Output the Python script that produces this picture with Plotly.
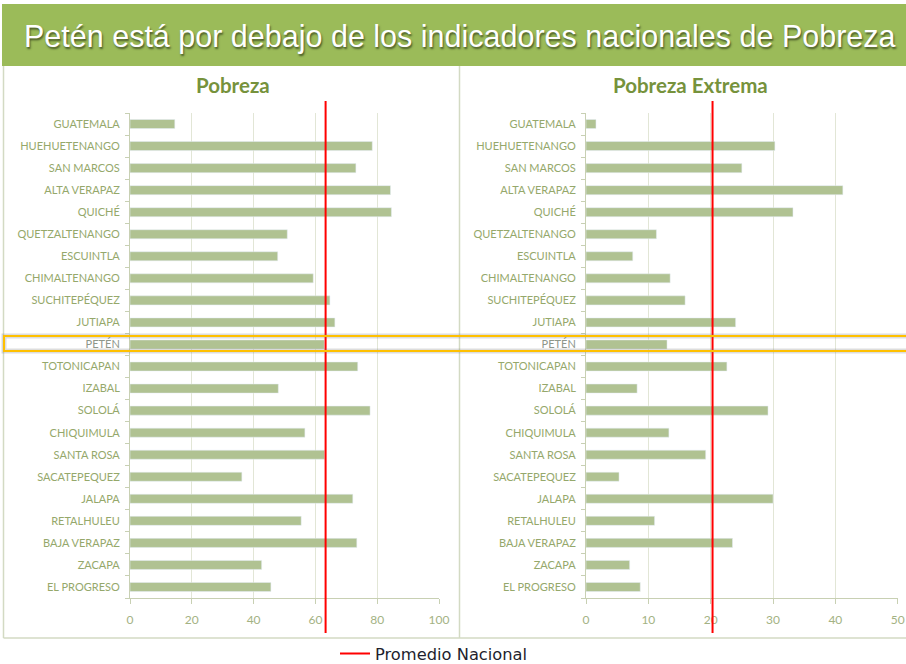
import plotly.graph_objects as go

# Data
departamentos = ["GUATEMALA", "HUEHUETENANGO", "SAN MARCOS", "ALTA VERAPAZ", "QUICHÉ",
                 "QUETZALTENANGO", "ESCUINTLA", "CHIMALTENANGO", "SUCHITEPÉQUEZ", "JUTIAPA",
                 "PETÉN", "TOTONICAPAN", "IZABAL", "SOLOLÁ", "CHIQUIMULA", "SANTA ROSA",
                 "SACATEPEQUEZ", "JALAPA", "RETALHULEU", "BAJA VERAPAZ", "ZACAPA", "EL PROGRESO"]
pobreza = [14.5, 78.4, 73.1, 84.3, 84.6, 50.9, 47.8, 59.3, 64.7, 66.3, 62.9,
           73.7, 48.0, 77.7, 56.6, 63.0, 36.2, 72.1, 55.4, 73.4, 42.6, 45.6]
pobreza_extrema = [1.6, 30.3, 25.0, 41.2, 33.2, 11.3, 7.5, 13.5, 15.9, 24.0, 13.0,
                   22.6, 8.2, 29.2, 13.3, 19.2, 5.3, 30.0, 11.0, 23.5, 7.0, 8.7]
promedio_pobreza = 63.3
promedio_extrema = 20.3
ticks_pobreza = [0, 20, 40, 60, 80, 100]
ticks_extrema = [0, 10, 20, 30, 40, 50]

W, H = 906, 664
BAR = "#B0C292"
LABEL = "#95A86B"
GRID = "#E2E6D6"
AXIS = "#C8D0B3"
FONT = "Lato"

def px(x):
    return x / W

def py(y):
    return 1 - y / H

tick_text = []
for d in departamentos:
    color = "#8E978A" if d == "PETÉN" else LABEL
    tick_text.append(f"<span style='color:{color}'>{d}</span>")

fig = go.Figure()
fig.add_trace(go.Bar(x=pobreza, y=departamentos, orientation="h", marker_color=BAR,
                     showlegend=False, xaxis="x", yaxis="y", hoverinfo="x+y"))
fig.add_trace(go.Bar(x=pobreza_extrema, y=departamentos, orientation="h", marker_color=BAR,
                     showlegend=False, xaxis="x2", yaxis="y2", hoverinfo="x+y"))
# legend entry for the national average lines
fig.add_trace(go.Scatter(x=[None], y=[None], mode="lines", name="Promedio Nacional",
                         line=dict(color="#FF0000", width=2)))

ydom = [py(598), py(113)]
xaxis_common = dict(showgrid=True, gridcolor=GRID, gridwidth=1, zeroline=False,
                    showline=True, linecolor=AXIS, ticks="outside", ticklen=5,
                    tickcolor=AXIS, tickfont=dict(family=FONT, size=12, color="#A3B283"),
                    ticklabelstandoff=6, fixedrange=True)
yaxis_common = dict(autorange="reversed", showline=True, linecolor=AXIS, ticks="outside",
                    tickson="boundaries", ticklen=4, tickcolor=AXIS, domain=ydom,
                    tickmode="array", tickvals=departamentos, ticktext=tick_text,
                    tickfont=dict(family=FONT, size=11, color=LABEL),
                    ticklabelstandoff=7, showgrid=False, fixedrange=True)

fig.update_layout(
    width=W, height=H,
    margin=dict(l=0, r=0, t=0, b=0, autoexpand=False),
    paper_bgcolor="white", plot_bgcolor="white",
    bargap=0.59,
    xaxis=dict(domain=[px(130), px(439)], range=[0, 100], tickvals=ticks_pobreza,
               anchor="y", **xaxis_common),
    yaxis=dict(anchor="x", **yaxis_common),
    xaxis2=dict(domain=[px(586), px(897.7)], range=[0, 50], tickvals=ticks_extrema,
                anchor="y2", **xaxis_common),
    yaxis2=dict(anchor="x2", **yaxis_common),
    legend=dict(orientation="h", x=px(335), y=py(654), xanchor="left", yanchor="middle",
                font=dict(family="DejaVu Sans", size=16.3, color="#1F1F2E"),
                bgcolor="rgba(0,0,0,0)"),
    showlegend=True,
)

# open-ended highlight around the Petén row (runs off the right edge)
hx0, hx1, hy0, hy1 = px(4), 1.0, py(351), py(336)
highlight = f"M {hx1},{hy0} L {hx0},{hy0} L {hx0},{hy1} L {hx1},{hy1}"

shapes = [
    # title banner
    dict(type="rect", xref="paper", yref="paper", x0=px(2), x1=1, y0=py(66), y1=py(4),
         fillcolor="#9BBB59", line=dict(width=0), layer="below"),
    # panel borders
    dict(type="line", xref="paper", yref="paper", x0=px(3.5), x1=px(3.5), y0=py(638), y1=py(66),
         line=dict(color="#D3DAC3", width=1.5)),
    dict(type="line", xref="paper", yref="paper", x0=px(459.5), x1=px(459.5), y0=py(638), y1=py(66),
         line=dict(color="#D3DAC3", width=1.5)),
    dict(type="line", xref="paper", yref="paper", x0=px(3.5), x1=1, y0=py(638), y1=py(638),
         line=dict(color="#D3DAC3", width=1.5)),
    # national average lines
    dict(type="line", xref="x", yref="paper", x0=promedio_pobreza, x1=promedio_pobreza,
         y0=py(633), y1=py(101), line=dict(color="#FF0000", width=2)),
    dict(type="line", xref="x2", yref="paper", x0=promedio_extrema, x1=promedio_extrema,
         y0=py(633), y1=py(101), line=dict(color="#FF0000", width=2)),
    # Petén highlight
    dict(type="path", xref="paper", yref="paper", path=highlight,
         line=dict(color="rgba(120,120,120,0.25)", width=5)),
    dict(type="path", xref="paper", yref="paper", path=highlight,
         line=dict(color="#FFC000", width=2)),
]
fig.update_layout(shapes=shapes)

annotations = [
    dict(text="Petén está por debajo de los indicadores nacionales de Pobreza",
         x=px(460), y=py(36), xref="paper", yref="paper", showarrow=False,
         xanchor="center", yanchor="middle",
         font=dict(family="Liberation Sans", size=30.5, color="white",
                   shadow="1px 2px 2px rgba(40,50,20,0.7)")),
    dict(text="<b>Pobreza</b>", x=px(233), y=py(85), xref="paper", yref="paper",
         showarrow=False, xanchor="center", yanchor="middle",
         font=dict(family=FONT, size=20.5, color="#76923C")),
    dict(text="<b>Pobreza Extrema</b>", x=px(690), y=py(85), xref="paper", yref="paper",
         showarrow=False, xanchor="center", yanchor="middle",
         font=dict(family=FONT, size=20.5, color="#76923C")),
]
fig.update_layout(annotations=annotations)

# drop the default page margin so the 906x664 figure fills the window
fig.write_html("out.html", config={"displayModeBar": False},
               post_script="document.body.style.margin='0';"
                           "document.body.style.overflow='hidden';"
                           "document.documentElement.style.overflow='hidden';")
